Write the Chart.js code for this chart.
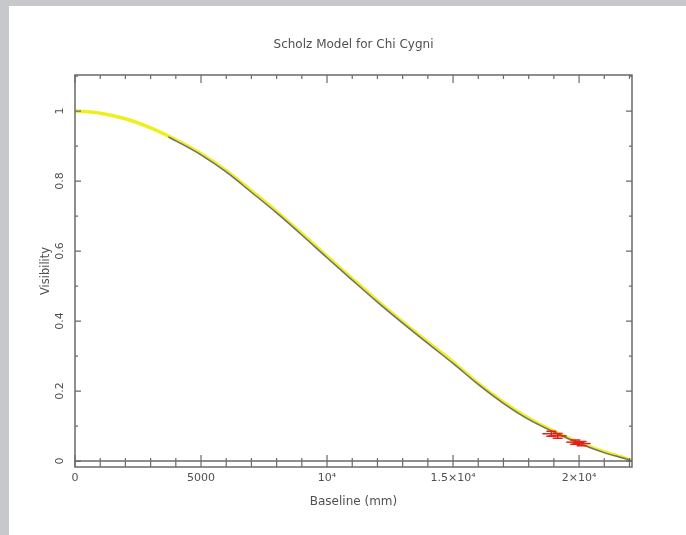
<!DOCTYPE html>
<html>
<head>
<meta charset="utf-8">
<script src="https://cdn.jsdelivr.net/npm/chart.js@4"></script>
<style>
html, body { margin: 0; padding: 0; background: #c6c8cb; }
#wrap { width: 686px; height: 535px; }
</style>
</head>
<body>
<div id="wrap"><canvas id="graph_visibility" width="686" height="535"></canvas></div>
<script>
// values
var baseline = [0, 1000, 2000, 3000, 4000, 5000, 6000, 7000, 8000, 9000, 10000, 11000,
	12000, 13000, 14000, 15000, 16000, 17000, 18000, 19000, 20000, 21000, 22000, 22100]
var scholzVis = [1.000, 0.994, 0.978, 0.952, 0.918, 0.878, 0.830, 0.772, 0.713, 0.650, 0.585, 0.521,
	0.458, 0.398, 0.340, 0.283, 0.222, 0.168, 0.122, 0.085, 0.053, 0.026, 0.004, 0.000]
var fitBaseline = [3700, 4000, 5000, 6000, 7000, 8000, 9000, 10000, 11000, 12000, 13000,
	14000, 15000, 16000, 17000, 18000, 19000, 20000, 21000, 22000, 22100]
var fitVis = [0.926, 0.915, 0.875, 0.826, 0.768, 0.709, 0.646, 0.581, 0.517, 0.454, 0.394,
	0.336, 0.279, 0.219, 0.165, 0.119, 0.083, 0.051, 0.024, 0.003, 0.000]
var obsBaseline = [18900, 19150, 19850, 20100]
var obsVis = [0.078, 0.072, 0.054, 0.050]
var obsErr = [0.007, 0.007, 0.006, 0.006]

var xMajor = [0, 5000, 10000, 15000, 20000]
var xLabels = ['0', '5000', '10\u2074', '1.5\u00d710\u2074', '2\u00d710\u2074']
var yMajor = [0, 0.2, 0.4, 0.6, 0.8, 1]
var yLabels = ['0', '0.2', '0.4', '0.6', '0.8', '1']

function pts(xs, ys) {
	var out = []
	for (var i = 0; i < xs.length; i++) out.push({x: xs[i], y: ys[i]})
	return out
}

var axisCol = '#6a6a6a'
var textCol = '#505050'
var fontName = '"DejaVu Sans", sans-serif'

// page background, frame, inward ticks, rotated y labels, error bars
var framePlugin = {
	id: 'frame',
	beforeDraw: function (chart) {
		var ctx = chart.ctx
		ctx.save()
		ctx.fillStyle = '#c6c8cb'
		ctx.fillRect(0, 0, chart.width, chart.height)
		ctx.fillStyle = '#ffffff'
		ctx.fillRect(9, 6, chart.width - 9, chart.height - 6)
		ctx.restore()
	},
	afterDatasetsDraw: function (chart) {
		var ctx = chart.ctx
		var a = chart.chartArea
		var xs = chart.scales.x
		var ys = chart.scales.y
		ctx.save()

		// error bars
		ctx.strokeStyle = '#e02018'
		ctx.lineWidth = 1.5
		for (var i = 0; i < obsBaseline.length; i++) {
			var px = xs.getPixelForValue(obsBaseline[i])
			var p1 = ys.getPixelForValue(obsVis[i] - obsErr[i])
			var p2 = ys.getPixelForValue(obsVis[i] + obsErr[i])
			ctx.beginPath()
			ctx.moveTo(px, p1); ctx.lineTo(px, p2)
			ctx.moveTo(px - 5, p1); ctx.lineTo(px + 5, p1)
			ctx.moveTo(px - 5, p2); ctx.lineTo(px + 5, p2)
			ctx.stroke()
		}

		ctx.strokeStyle = axisCol
		ctx.lineWidth = 1.5
		ctx.strokeRect(a.left, a.top, a.right - a.left, a.bottom - a.top)
		// zero line
		var z = ys.getPixelForValue(0)
		ctx.beginPath()
		ctx.moveTo(a.left, z); ctx.lineTo(a.right, z)
		ctx.stroke()

		ctx.lineWidth = 1.2
		ctx.beginPath()
		for (var v = 0; v <= 22000; v += 1000) {
			var x = xs.getPixelForValue(v)
			var major = v % 5000 == 0
			ctx.moveTo(x, a.bottom); ctx.lineTo(x, a.bottom - (major ? 12 : 9))
			ctx.moveTo(x, a.top); ctx.lineTo(x, a.top + (major ? 8 : 4))
		}
		for (var k = 0; k <= 11; k++) {
			var y = ys.getPixelForValue(k / 10)
			var maj = k % 2 == 0
			ctx.moveTo(a.left, y); ctx.lineTo(a.left + (maj ? 6 : 3), y)
			ctx.moveTo(a.right, y); ctx.lineTo(a.right - (maj ? 6 : 3), y)
		}
		ctx.stroke()

		// y tick labels, rotated like the original
		ctx.fillStyle = textCol
		ctx.font = '11px ' + fontName
		ctx.textAlign = 'center'
		ctx.textBaseline = 'middle'
		for (var j = 0; j < yMajor.length; j++) {
			ctx.save()
			ctx.translate(60, ys.getPixelForValue(yMajor[j]))
			ctx.rotate(-Math.PI / 2)
			ctx.fillText(yLabels[j], 0, 0)
			ctx.restore()
		}
		ctx.save()
		ctx.font = '11.5px ' + fontName
		ctx.translate(46, (a.top + a.bottom) / 2)
		ctx.rotate(-Math.PI / 2)
		ctx.fillText('Visibility', 0, 0)
		ctx.restore()

		// title centred over the plot box
		ctx.font = '12px ' + fontName
		ctx.fillText('Scholz Model for Chi Cygni', (a.left + a.right) / 2, 45)
		ctx.restore()
	}
}

window.visibilityChart = new Chart(document.getElementById('graph_visibility'), {
	type: 'line',
	data: {
		datasets: [{
			label: 'Scholz model',
			data: pts(baseline, scholzVis),
			borderColor: '#f0ee20',
			borderWidth: 3.5,
			pointRadius: 0,
			cubicInterpolationMode: 'monotone',
			order: 3
		}, {
			label: 'fit',
			data: pts(fitBaseline, fitVis),
			borderColor: '#6e6e7a',
			borderWidth: 1.5,
			pointRadius: 0,
			cubicInterpolationMode: 'monotone',
			order: 2
		}, {
			type: 'scatter',
			label: 'observed',
			data: pts(obsBaseline, obsVis),
			borderColor: '#e02018',
			backgroundColor: '#e02018',
			pointStyle: 'line',
			pointRadius: 9,
			borderWidth: 1.5,
			order: 1
		}]
	},
	options: {
		responsive: false,
		animation: false,
		layout: { padding: { left: 0, right: 54, top: 75, bottom: 0 } },
		plugins: {
			legend: { display: false },
			title: { display: false },
			tooltip: { enabled: false }
		},
		scales: {
			x: {
				type: 'linear',
				min: 0,
				max: 22100,
				border: { display: false },
				grid: { display: false, drawTicks: false },
				afterFit: function (s) { s.height = 68 },
				afterBuildTicks: function (s) {
					s.ticks = xMajor.map(function (v) { return {value: v} })
				},
				ticks: {
					padding: 5,
					color: textCol,
					font: { family: fontName, size: 11 },
					maxRotation: 0,
					callback: function (v) { return xLabels[xMajor.indexOf(v)] }
				},
				title: {
					display: true,
					text: 'Baseline (mm)',
					color: textCol,
					font: { family: fontName, size: 12 },
					padding: { top: 0, bottom: 26 }
				}
			},
			y: {
				type: 'linear',
				min: -0.017,
				max: 1.103,
				border: { display: false },
				grid: { display: false, drawTicks: false },
				afterFit: function (s) { s.width = 75 },
				afterBuildTicks: function (s) {
					s.ticks = yMajor.map(function (v) { return {value: v} })
				},
				ticks: { display: false }
			}
		}
	},
	plugins: [framePlugin]
})
</script>
</body>
</html>
